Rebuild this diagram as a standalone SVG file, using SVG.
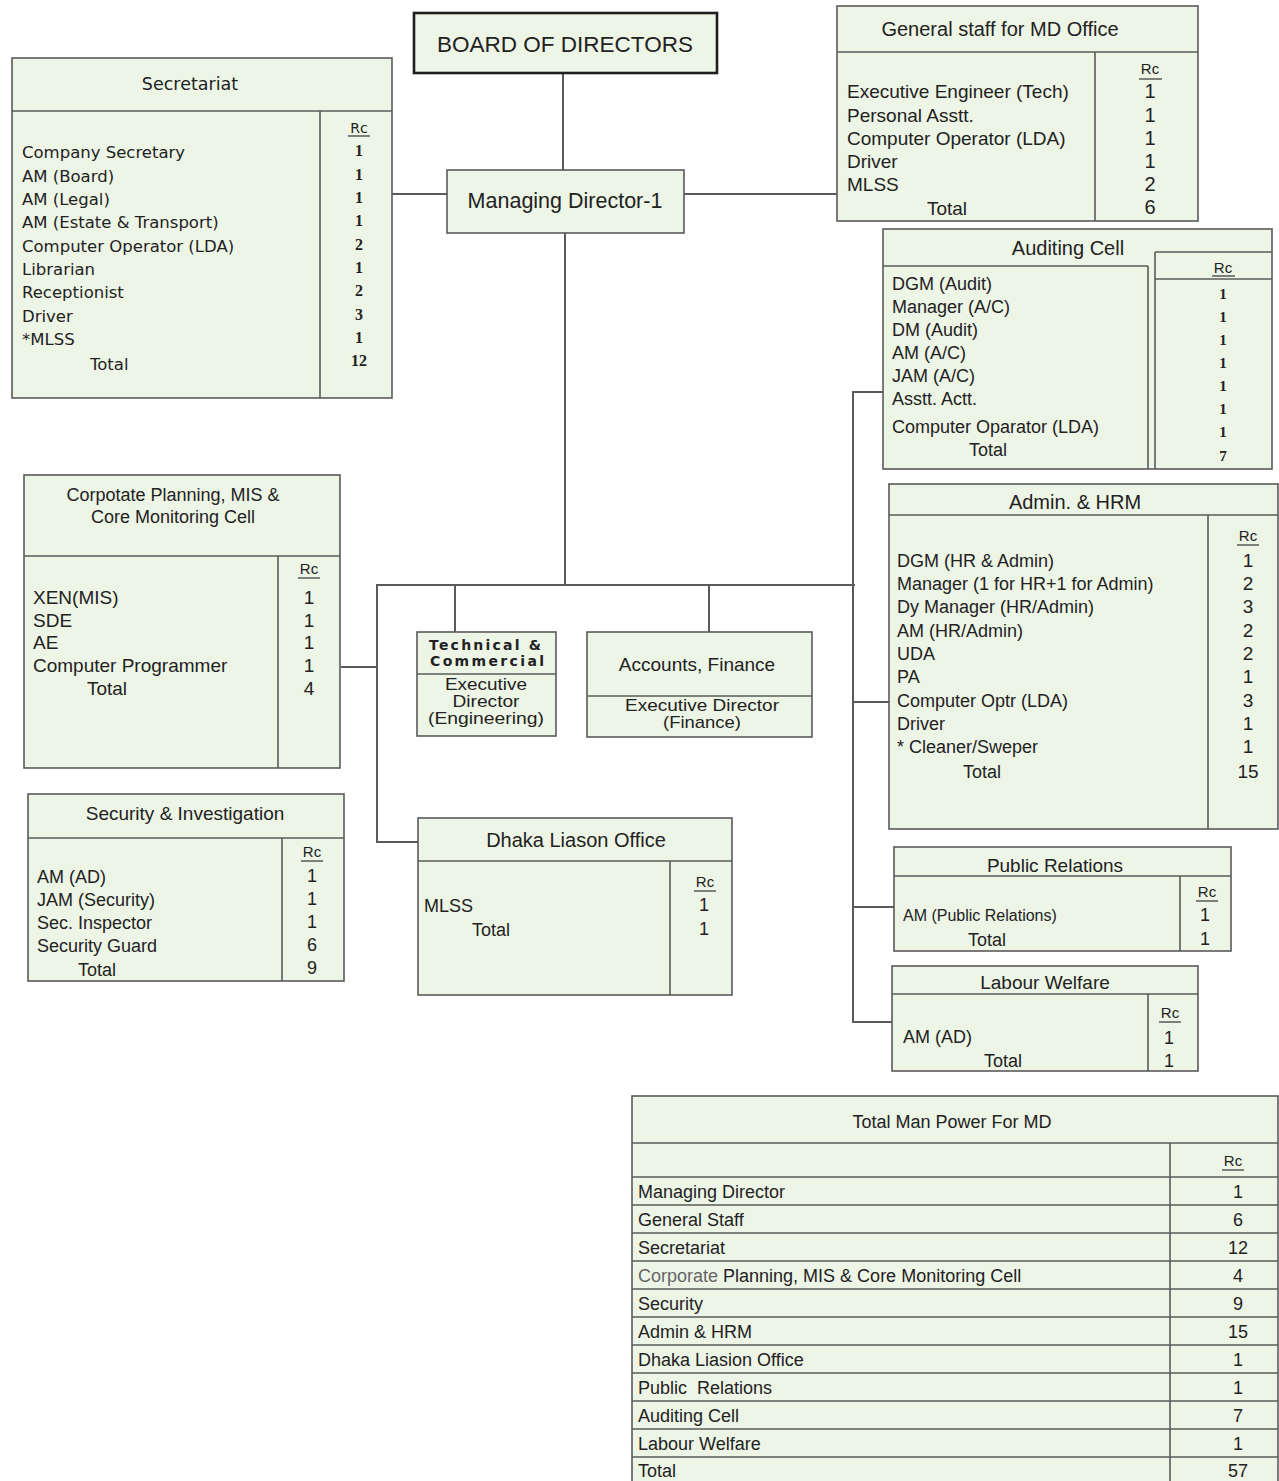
<svg xmlns="http://www.w3.org/2000/svg" width="1279" height="1481" viewBox="0 0 1279 1481">
<style>
.bg{fill:#ffffff}
.box{fill:#edf5e6;stroke:#5a5a5a;stroke-width:1.6}
.bod{fill:#edf5e6;stroke:#1e1e1e;stroke-width:2.6}
.ln{stroke:#5a5a5a;stroke-width:1.6;fill:none}
.conn line{stroke:#5a5a5a;stroke-width:2;fill:none}
text{fill:#222}
.a{font-family:"Liberation Sans",Arial,sans-serif}
.v{font-family:"DejaVu Sans",Verdana,sans-serif}
.s{font-family:"Liberation Serif","Times New Roman",serif}
.c{text-anchor:middle}
.t20{font-size:20px}
.t19{font-size:19px}
.t18{font-size:18px}
.t17{font-size:17px}
.rc{font-size:15px}
.u{stroke:#333;stroke-width:1.2}
</style>
<rect class="bg" x="0" y="0" width="1279" height="1481"/>

<g id="connectors" class="conn">
  <line x1="563" y1="73" x2="563" y2="170"/>
  <line x1="392" y1="194" x2="447" y2="194"/>
  <line x1="684" y1="194" x2="837" y2="194"/>
  <line x1="565" y1="233" x2="565" y2="585"/>
  <line x1="377" y1="585" x2="855" y2="585"/>
  <line x1="377" y1="584" x2="377" y2="843"/>
  <line x1="341" y1="667" x2="377" y2="667"/>
  <line x1="376" y1="842" x2="418" y2="842"/>
  <line x1="455" y1="585" x2="455" y2="632"/>
  <line x1="709" y1="585" x2="709" y2="632"/>
  <line x1="853" y1="391" x2="853" y2="1023"/>
  <line x1="852" y1="392" x2="883" y2="392"/>
  <line x1="853" y1="702" x2="889" y2="702"/>
  <line x1="853" y1="907" x2="894" y2="907"/>
  <line x1="852" y1="1022" x2="892" y2="1022"/>
</g>

<g id="board">
  <rect class="bod" x="414" y="13" width="303" height="60"/>
  <text class="a c" x="565" y="52" font-size="22.5">BOARD OF DIRECTORS</text>
</g>

<g id="md">
  <rect class="box" x="447" y="170" width="237" height="63"/>
  <text class="a c" x="565" y="208" font-size="21.5">Managing Director-1</text>
</g>

<g id="secretariat">
  <rect class="box" x="12" y="58" width="380" height="340"/>
  <line class="ln" x1="12" y1="111" x2="392" y2="111"/>
  <line class="ln" x1="320" y1="111" x2="320" y2="398"/>
  <text class="v c" x="190" y="90" font-size="17.5">Secretariat</text>
  <text class="v c" x="359" y="133" font-size="14">Rc</text>
  <line class="u" x1="348" y1="136" x2="370" y2="136"/>
  <g class="v" font-size="16.5">
    <text x="22" y="158">Company Secretary</text>
    <text x="22" y="181.5">AM (Board)</text>
    <text x="22" y="205">AM (Legal)</text>
    <text x="22" y="228">AM (Estate &amp; Transport)</text>
    <text x="22" y="251.5">Computer Operator (LDA)</text>
    <text x="22" y="275">Librarian</text>
    <text x="22" y="298">Receptionist</text>
    <text x="22" y="321.5">Driver</text>
    <text x="22" y="345">*MLSS</text>
    <text x="90" y="370">Total</text>
  </g>
  <g class="s c" font-size="16" font-weight="bold">
    <text x="359" y="156">1</text>
    <text x="359" y="179.5">1</text>
    <text x="359" y="203">1</text>
    <text x="359" y="226">1</text>
    <text x="359" y="249.5">2</text>
    <text x="359" y="273">1</text>
    <text x="359" y="296">2</text>
    <text x="359" y="319.5">3</text>
    <text x="359" y="343">1</text>
    <text x="359" y="366">12</text>
  </g>
</g>

<g id="general-staff">
  <rect class="box" x="837" y="6" width="361" height="215"/>
  <line class="ln" x1="837" y1="52" x2="1198" y2="52"/>
  <line class="ln" x1="1095" y1="52" x2="1095" y2="221"/>
  <text class="a c t20" x="1000" y="36">General staff for MD Office</text>
  <text class="a c rc" x="1150" y="74">Rc</text>
  <line class="u" x1="1139" y1="79" x2="1162" y2="79"/>
  <g class="a t19">
    <text x="847" y="98">Executive Engineer (Tech)</text>
    <text x="847" y="121.5">Personal Asstt.</text>
    <text x="847" y="145">Computer Operator (LDA)</text>
    <text x="847" y="168">Driver</text>
    <text x="847" y="191">MLSS</text>
    <text class="c" x="947" y="215">Total</text>
  </g>
  <g class="a c t20">
    <text x="1150" y="98">1</text>
    <text x="1150" y="121.5">1</text>
    <text x="1150" y="145">1</text>
    <text x="1150" y="168">1</text>
    <text x="1150" y="191">2</text>
    <text x="1150" y="214">6</text>
  </g>
</g>

<g id="auditing-cell">
  <rect class="box" x="883" y="229" width="389" height="240"/>
  <line class="ln" x1="883" y1="266" x2="1148" y2="266"/>
  <line class="ln" x1="1148" y1="266" x2="1148" y2="469"/>
  <line class="ln" x1="1155" y1="252" x2="1155" y2="469"/>
  <line class="ln" x1="1155" y1="252" x2="1272" y2="252"/>
  <line class="ln" x1="1155" y1="279" x2="1272" y2="279"/>
  <text class="a c t20" x="1068" y="255">Auditing Cell</text>
  <text class="a c rc" x="1223" y="273">Rc</text>
  <line class="u" x1="1212" y1="276" x2="1235" y2="276"/>
  <g class="a t18">
    <text x="892" y="290">DGM (Audit)</text>
    <text x="892" y="313">Manager (A/C)</text>
    <text x="892" y="336">DM (Audit)</text>
    <text x="892" y="359">AM (A/C)</text>
    <text x="892" y="382">JAM (A/C)</text>
    <text x="892" y="405">Asstt. Actt.</text>
    <text x="892" y="433">Computer Oparator (LDA)</text>
    <text class="c" x="988" y="456">Total</text>
  </g>
  <g class="s c" font-size="15" font-weight="bold">
    <text x="1223" y="299">1</text>
    <text x="1223" y="322">1</text>
    <text x="1223" y="345">1</text>
    <text x="1223" y="368">1</text>
    <text x="1223" y="391">1</text>
    <text x="1223" y="414">1</text>
    <text x="1223" y="437">1</text>
    <text x="1223" y="461">7</text>
  </g>
</g>

<g id="corporate-planning">
  <rect class="box" x="24" y="475" width="316" height="293"/>
  <line class="ln" x1="24" y1="556" x2="340" y2="556"/>
  <line class="ln" x1="278" y1="556" x2="278" y2="768"/>
  <text class="a c t18" x="173" y="501">Corpotate Planning, MIS &amp;</text>
  <text class="a c t18" x="173" y="523">Core Monitoring Cell</text>
  <text class="a c rc" x="309" y="574">Rc</text>
  <line class="u" x1="298" y1="578" x2="320" y2="578"/>
  <g class="a t19">
    <text x="33" y="604">XEN(MIS)</text>
    <text x="33" y="627">SDE</text>
    <text x="33" y="649">AE</text>
    <text x="33" y="672">Computer Programmer</text>
    <text class="c" x="107" y="695">Total</text>
  </g>
  <g class="a c t19">
    <text x="309" y="604">1</text>
    <text x="309" y="627">1</text>
    <text x="309" y="649">1</text>
    <text x="309" y="672">1</text>
    <text x="309" y="695">4</text>
  </g>
</g>

<g id="technical-commercial">
  <rect class="box" x="417" y="632" width="139" height="104"/>
  <line class="ln" x1="417" y1="674" x2="556" y2="674"/>
  <text class="v" x="429" y="650" font-size="14" font-weight="bold" textLength="112" lengthAdjust="spacing">Technical &amp;</text>
  <text class="v" x="430" y="666" font-size="14" font-weight="bold" textLength="114" lengthAdjust="spacing">Commercial</text>
  <text class="a c t17" x="486" y="690" textLength="82" lengthAdjust="spacingAndGlyphs">Executive</text>
  <text class="a c t17" x="486" y="707" textLength="67" lengthAdjust="spacingAndGlyphs">Director</text>
  <text class="a c t17" x="486" y="724" textLength="116" lengthAdjust="spacingAndGlyphs">(Engineering)</text>
</g>

<g id="accounts-finance">
  <rect class="box" x="587" y="632" width="225" height="105"/>
  <line class="ln" x1="587" y1="696" x2="812" y2="696"/>
  <text class="a c t19" x="697" y="671">Accounts, Finance</text>
  <text class="a c t17" x="702" y="711" textLength="154" lengthAdjust="spacingAndGlyphs">Executive Director</text>
  <text class="a c t17" x="702" y="728" textLength="78" lengthAdjust="spacingAndGlyphs">(Finance)</text>
</g>

<g id="admin-hrm">
  <rect class="box" x="889" y="484" width="389" height="345"/>
  <line class="ln" x1="889" y1="515" x2="1278" y2="515"/>
  <line class="ln" x1="1208" y1="515" x2="1208" y2="829"/>
  <text class="a c t20" x="1075" y="509">Admin. &amp; HRM</text>
  <text class="a c rc" x="1248" y="541">Rc</text>
  <line class="u" x1="1237" y1="545" x2="1259" y2="545"/>
  <g class="a t18">
    <text x="897" y="567">DGM (HR &amp; Admin)</text>
    <text x="897" y="590">Manager (1 for HR+1 for Admin)</text>
    <text x="897" y="613">Dy Manager (HR/Admin)</text>
    <text x="897" y="637">AM (HR/Admin)</text>
    <text x="897" y="660">UDA</text>
    <text x="897" y="683">PA</text>
    <text x="897" y="707">Computer Optr (LDA)</text>
    <text x="897" y="730">Driver</text>
    <text x="897" y="753">* Cleaner/Sweper</text>
    <text class="c" x="982" y="778">Total</text>
  </g>
  <g class="a c t19">
    <text x="1248" y="567">1</text>
    <text x="1248" y="590">2</text>
    <text x="1248" y="613">3</text>
    <text x="1248" y="637">2</text>
    <text x="1248" y="660">2</text>
    <text x="1248" y="683">1</text>
    <text x="1248" y="707">3</text>
    <text x="1248" y="730">1</text>
    <text x="1248" y="753">1</text>
    <text x="1248" y="778">15</text>
  </g>
</g>

<g id="security-investigation">
  <rect class="box" x="28" y="794" width="316" height="187"/>
  <line class="ln" x1="28" y1="838" x2="344" y2="838"/>
  <line class="ln" x1="282" y1="838" x2="282" y2="981"/>
  <text class="a c t19" x="185" y="820">Security &amp; Investigation</text>
  <text class="a c rc" x="312" y="857">Rc</text>
  <line class="u" x1="301" y1="861" x2="323" y2="861"/>
  <g class="a t18">
    <text x="37" y="883">AM (AD)</text>
    <text x="37" y="906">JAM (Security)</text>
    <text x="37" y="929">Sec. Inspector</text>
    <text x="37" y="952">Security Guard</text>
    <text class="c" x="97" y="976">Total</text>
  </g>
  <g class="a c t18">
    <text x="312" y="882">1</text>
    <text x="312" y="905">1</text>
    <text x="312" y="928">1</text>
    <text x="312" y="951">6</text>
    <text x="312" y="974">9</text>
  </g>
</g>

<g id="dhaka-liason-office">
  <rect class="box" x="418" y="818" width="314" height="177"/>
  <line class="ln" x1="418" y1="861" x2="732" y2="861"/>
  <line class="ln" x1="670" y1="861" x2="670" y2="995"/>
  <text class="a c t20" x="576" y="847">Dhaka Liason Office</text>
  <text class="a c rc" x="705" y="887">Rc</text>
  <line class="u" x1="694" y1="891" x2="716" y2="891"/>
  <text class="a t18" x="424" y="912">MLSS</text>
  <text class="a c t18" x="491" y="936">Total</text>
  <text class="a c t18" x="704" y="911">1</text>
  <text class="a c t18" x="704" y="935">1</text>
</g>

<g id="public-relations">
  <rect class="box" x="894" y="847" width="337" height="104"/>
  <line class="ln" x1="894" y1="876" x2="1231" y2="876"/>
  <line class="ln" x1="1180" y1="876" x2="1180" y2="951"/>
  <text class="a c t19" x="1055" y="872">Public Relations</text>
  <text class="a c rc" x="1207" y="897">Rc</text>
  <line class="u" x1="1196" y1="901" x2="1218" y2="901"/>
  <text class="a" x="903" y="921" font-size="16">AM (Public Relations)</text>
  <text class="a c t18" x="987" y="946">Total</text>
  <text class="a c t18" x="1205" y="921">1</text>
  <text class="a c t18" x="1205" y="945">1</text>
</g>

<g id="labour-welfare">
  <rect class="box" x="892" y="966" width="306" height="105"/>
  <line class="ln" x1="892" y1="994" x2="1198" y2="994"/>
  <line class="ln" x1="1148" y1="994" x2="1148" y2="1071"/>
  <text class="a c t19" x="1045" y="989">Labour Welfare</text>
  <text class="a c rc" x="1170" y="1018">Rc</text>
  <line class="u" x1="1159" y1="1022" x2="1181" y2="1022"/>
  <text class="a t18" x="903" y="1043">AM (AD)</text>
  <text class="a c t18" x="1003" y="1067">Total</text>
  <text class="a c t18" x="1169" y="1044">1</text>
  <text class="a c t18" x="1169" y="1067">1</text>
</g>

<g id="total-man-power">
  <rect class="box" x="632" y="1096" width="646" height="390"/>
  <line class="ln" x1="632" y1="1143" x2="1278" y2="1143"/>
  <line class="ln" x1="1170" y1="1143" x2="1170" y2="1481"/>
  <g class="ln">
    <line x1="632" y1="1177" x2="1278" y2="1177"/>
    <line x1="632" y1="1205" x2="1278" y2="1205"/>
    <line x1="632" y1="1233" x2="1278" y2="1233"/>
    <line x1="632" y1="1261" x2="1278" y2="1261"/>
    <line x1="632" y1="1289" x2="1278" y2="1289"/>
    <line x1="632" y1="1317" x2="1278" y2="1317"/>
    <line x1="632" y1="1345" x2="1278" y2="1345"/>
    <line x1="632" y1="1373" x2="1278" y2="1373"/>
    <line x1="632" y1="1401" x2="1278" y2="1401"/>
    <line x1="632" y1="1429" x2="1278" y2="1429"/>
    <line x1="632" y1="1457" x2="1278" y2="1457"/>
  </g>
  <text class="a c" x="952" y="1128" font-size="18">Total Man Power For MD</text>
  <text class="a c rc" x="1233" y="1166">Rc</text>
  <line class="u" x1="1222" y1="1170" x2="1244" y2="1170"/>
  <g class="a t18">
    <text x="638" y="1198">Managing Director</text>
    <text x="638" y="1226">General Staff</text>
    <text x="638" y="1254">Secretariat</text>
    <text x="638" y="1282"><tspan fill="#666">Corporate</tspan> Planning, MIS &amp; Core Monitoring Cell</text>
    <text x="638" y="1310">Security</text>
    <text x="638" y="1338">Admin &amp; HRM</text>
    <text x="638" y="1366">Dhaka Liasion Office</text>
    <text x="638" y="1394" xml:space="preserve">Public  Relations</text>
    <text x="638" y="1422">Auditing Cell</text>
    <text x="638" y="1450">Labour Welfare</text>
    <text x="638" y="1477">Total</text>
  </g>
  <g class="a c t18">
    <text x="1238" y="1198">1</text>
    <text x="1238" y="1226">6</text>
    <text x="1238" y="1254">12</text>
    <text x="1238" y="1282">4</text>
    <text x="1238" y="1310">9</text>
    <text x="1238" y="1338">15</text>
    <text x="1238" y="1366">1</text>
    <text x="1238" y="1394">1</text>
    <text x="1238" y="1422">7</text>
    <text x="1238" y="1450">1</text>
    <text x="1238" y="1477">57</text>
  </g>
</g>
</svg>
